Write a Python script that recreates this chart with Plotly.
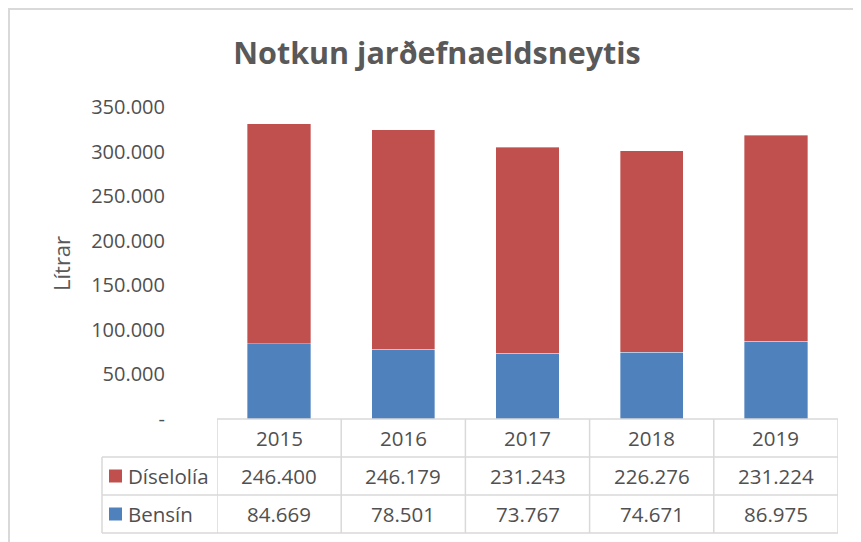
import plotly.graph_objects as go

# ---- data ----
years = ["2015", "2016", "2017", "2018", "2019"]
diesel = [246400, 246179, 231243, 226276, 231224]
bensin = [84669, 78501, 73767, 74671, 86975]
series_names = ["Díselolía", "Bensín"]
y_tickvals = [0, 50000, 100000, 150000, 200000, 250000, 300000, 350000]

RED = "#C0504D"
BLUE = "#4F81BD"
TXT = "#505050"
GRID = "#D9D9D9"
FONT = "'Open Sans', 'Noto Sans', sans-serif"

OFF = 8  # page body margin offset
W, H = 861, 542
# plot area in screen px: x 217..838, y 107..419
PX0, PX1, PY0, PY1 = 217, 838, 107, 419
ML, MT = PX0 - OFF, PY0 - OFF
PW, PH = PX1 - PX0, PY1 - PY0
MR, MB = W - ML - PW, H - MT - PH


def fmt(v):
    return "-" if v == 0 else f"{v:,}".replace(",", ".")


def px_x(p):
    return (p - PX0) / PW


def px_y(p):
    return (PY1 - p) / PH


fig = go.Figure()
xs = list(range(len(years)))
fig.add_trace(go.Bar(x=xs, y=bensin, name=series_names[1], marker_color=BLUE,
                     marker_line=dict(color="rgba(255,255,255,0.5)", width=0.7)))
fig.add_trace(go.Bar(x=xs, y=diesel, name=series_names[0], marker_color=RED,
                     marker_line=dict(color="rgba(255,255,255,0.5)", width=0.7)))

shapes = []
annotations = []

# chart border (left/top edges)
shapes.append(dict(type="rect", xref="paper", yref="paper",
                   x0=px_x(9), x1=px_x(900), y0=px_y(600), y1=px_y(9),
                   line=dict(color=GRID, width=2), fillcolor="rgba(0,0,0,0)", layer="below"))

# table rows (screen px)
row_top, row_h = 419, 38
rows_y = [row_top + row_h * k for k in range(4)]
LEFT = 102
for k, yy in enumerate(rows_y):
    shapes.append(dict(type="line", xref="paper", yref="paper",
                       x0=0 if k == 0 else px_x(LEFT), x1=1,
                       y0=px_y(yy), y1=px_y(yy), line=dict(color=GRID, width=1.5)))
for i in range(len(years) + 1):
    shapes.append(dict(type="line", xref="x", yref="paper", x0=i - 0.5, x1=i - 0.5,
                       y0=px_y(rows_y[0]), y1=px_y(rows_y[3]), line=dict(color=GRID, width=1.5)))
shapes.append(dict(type="line", xref="paper", yref="paper", x0=px_x(LEFT), x1=px_x(LEFT),
                   y0=px_y(rows_y[1]), y1=px_y(rows_y[3]), line=dict(color=GRID, width=1.5)))

TS = 20.5
# header years
for i, yr in enumerate(years):
    annotations.append(dict(x=i, xref="x", y=px_y(rows_y[0] + row_h / 2), yref="paper",
                            text=yr, showarrow=False, xanchor="center", yanchor="middle",
                            font=dict(size=TS, color=TXT, family=FONT)))

# data rows
for r, (name, vals, col) in enumerate([(series_names[0], diesel, RED), (series_names[1], bensin, BLUE)]):
    cy = rows_y[r + 1] + row_h / 2
    for i, v in enumerate(vals):
        annotations.append(dict(x=i, xref="x", y=px_y(cy), yref="paper",
                                text=fmt(v), showarrow=False, xanchor="center", yanchor="middle",
                                font=dict(size=TS, color=TXT, family=FONT)))
    shapes.append(dict(type="rect", xref="paper", yref="paper",
                       x0=px_x(109), x1=px_x(122), y0=px_y(cy + 6.5), y1=px_y(cy - 6.5),
                       fillcolor=col, line=dict(width=0)))
    annotations.append(dict(x=px_x(126), xref="paper", y=px_y(cy), yref="paper",
                            text=name, showarrow=False, xanchor="left", yanchor="middle",
                            font=dict(size=TS, color=TXT, family=FONT)))

# y axis title
annotations.append(dict(x=px_x(61), xref="paper", y=px_y(264), yref="paper",
                        text="Lítrar", textangle=-90, showarrow=False,
                        xanchor="center", yanchor="middle",
                        font=dict(size=22, color="#595959", family=FONT)))

fig.update_layout(
    width=W, height=H,
    margin=dict(l=ML, r=MR, t=MT, b=MB, autoexpand=False),
    paper_bgcolor="white", plot_bgcolor="white",
    barmode="stack", bargap=0.49, showlegend=False,
    title=dict(text="<b>Notkun jarðefnaeldsneytis</b>", x=(437 - OFF) / W, xanchor="center",
               y=1 - (53 - OFF) / H, yanchor="middle", yref="container",
               font=dict(size=30.5, color="#595959", family=FONT)),
    font=dict(family=FONT, color=TXT),
    xaxis=dict(showticklabels=False, showgrid=False, showline=False, zeroline=False,
               range=[-0.5, len(years) - 0.5]),
    yaxis=dict(range=[0, 350000], tickvals=y_tickvals, ticktext=[fmt(v) for v in y_tickvals],
               showgrid=False, zeroline=False, showline=False, ticks="",
               ticklabelstandoff=PX0 - 166, tickfont=dict(size=20, color=TXT, family=FONT)),
    shapes=shapes, annotations=annotations,
)

fig.write_html("out.html")
